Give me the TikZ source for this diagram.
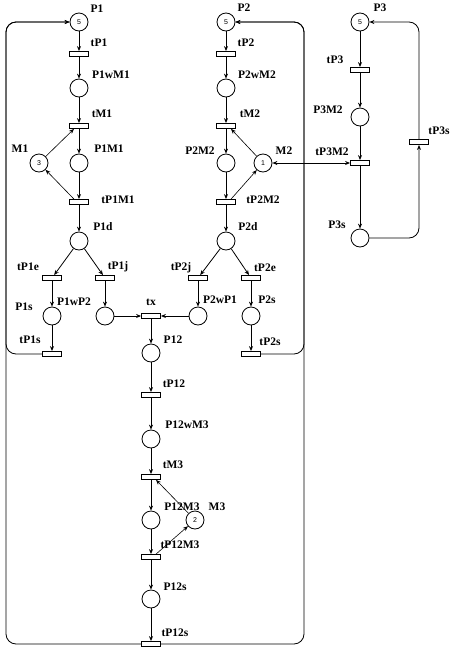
\documentclass[tikz,border=0pt]{standalone}
\usepackage{fontspec}
\setmainfont{Liberation Serif}
\newfontfamily\tokfont{Liberation Sans}
\usetikzlibrary{arrows.meta}
\begin{document}
\begin{tikzpicture}[x=1pt,y=-1pt,
  place/.style={circle,draw,line width=0.8pt,minimum size=18pt,inner sep=0pt,font=\tokfont\fontsize{7}{7}\selectfont},
  trans/.style={rectangle,draw,line width=0.8pt,minimum width=19pt,minimum height=5pt,inner sep=0pt},
  lbl/.style={font=\bfseries\fontsize{11.5}{12}\selectfont,inner sep=0pt},
  arc/.style={line width=0.8pt,-{Stealth[length=5pt,width=4pt]}},
  res/.style={line width=0.6pt,-{Stealth[length=5pt,width=4pt]}},
  loop/.style={line width=0.8pt,rounded corners=10pt,-{Stealth[length=5pt,width=4pt]}}]
\useasboundingbox (0,0) rectangle (458,651);
% ---- process 1
\node[place] (P1) at (79,22) {5};
\node[trans] (tP1) at (79,54) {};
\node[place] (P1wM1) at (79,88) {};
\node[trans] (tM1) at (79,126) {};
\node[place] (P1M1) at (79,163) {};
\node[place] (M1) at (39,163) {3};
\node[trans] (tP1M1) at (79,202) {};
\node[place] (P1d) at (79,241) {};
\node[trans] (tP1e) at (52,278) {};
\node[trans] (tP1j) at (105,278) {};
\node[place] (P1s) at (52,316) {};
\node[place] (P1wP2) at (105,316) {};
\node[trans] (tP1s) at (52,354) {};
% ---- process 2
\node[place] (P2) at (226,22) {5};
\node[trans] (tP2) at (226,54) {};
\node[place] (P2wM2) at (226,88) {};
\node[trans] (tM2) at (226,126) {};
\node[place] (P2M2) at (226,163) {};
\node[place] (M2) at (263,163) {1};
\node[trans] (tP2M2) at (226,202) {};
\node[place] (P2d) at (226,241) {};
\node[trans] (tP2j) at (198,278) {};
\node[trans] (tP2e) at (251,278) {};
\node[place] (P2wP1) at (198,316) {};
\node[place] (P2s) at (251,316) {};
\node[trans] (tP2s) at (251,354) {};
% ---- joint
\node[trans] (tx) at (151,316) {};
\node[place] (P12) at (151,353) {};
\node[trans] (tP12) at (151,395) {};
\node[place] (P12wM3) at (151,439) {};
\node[trans] (tM3) at (151,477) {};
\node[place] (P12M3) at (151,520) {};
\node[place] (M3) at (195,520) {2};
\node[trans] (tP12M3) at (151,557) {};
\node[place] (P12s) at (151,599) {};
\node[trans] (tP12s) at (151,644) {};
% ---- process 3
\node[place] (P3) at (360,22) {5};
\node[trans] (tP3) at (360,70) {};
\node[place] (P3M2) at (360,117) {};
\node[trans] (tP3M2) at (360,163) {};
\node[place] (P3s) at (360,238) {};
\node[trans] (tP3s) at (419,142) {};
% ---- labels
\node[lbl] (lP1) at (97,9) {P1};
\node[lbl] (ltP1) at (99,43) {tP1};
\node[lbl] (lP1wM1) at (111,75) {P1wM1};
\node[lbl] (ltM1) at (102,114) {tM1};
\node[lbl] (lP1M1) at (109,149) {P1M1};
\node[lbl] (lM1) at (20,149) {M1};
\node[lbl] (ltP1M1) at (118,200) {tP1M1};
\node[lbl] (lP1d) at (103,227) {P1d};
\node[lbl] (ltP1e) at (28,267) {tP1e};
\node[lbl] (ltP1j) at (118,267) {tP1j};
\node[lbl] (lP1s) at (24,307) {P1s};
\node[lbl] (lP1wP2) at (74,302) {P1wP2};
\node[lbl] (ltx) at (151,302) {tx};
\node[lbl] (ltP1s) at (30,340) {tP1s};
\node[lbl] (lP2) at (244,8) {P2};
\node[lbl] (ltP2) at (246,43) {tP2};
\node[lbl] (lP2wM2) at (257,75) {P2wM2};
\node[lbl] (ltM2) at (250,114) {tM2};
\node[lbl] (lP2M2) at (200,151) {P2M2};
\node[lbl] (lM2) at (284,151) {M2};
\node[lbl] (ltP2M2) at (263,200) {tP2M2};
\node[lbl] (lP2d) at (248,227) {P2d};
\node[lbl] (ltP2j) at (181,268) {tP2j};
\node[lbl] (ltP2e) at (265,268) {tP2e};
\node[lbl] (lP2wP1) at (220,300) {P2wP1};
\node[lbl] (lP2s) at (267,300) {P2s};
\node[lbl] (ltP2s) at (270,342) {tP2s};
\node[lbl] (lP12) at (173,340) {P12};
\node[lbl] (ltP12) at (174,384) {tP12};
\node[lbl] (lP12wM3) at (187,425) {P12wM3};
\node[lbl] (ltM3) at (173,465) {tM3};
\node[lbl] (lP12M3) at (182,507) {P12M3};
\node[lbl] (lM3) at (217,507) {M3};
\node[lbl] (ltP12M3) at (180,545) {tP12M3};
\node[lbl] (lP12s) at (175,587) {P12s};
\node[lbl] (ltP12s) at (175,633) {tP12s};
\node[lbl] (lP3) at (380,8) {P3};
\node[lbl] (ltP3) at (335,60) {tP3};
\node[lbl] (lP3M2) at (328,110) {P3M2};
\node[lbl] (ltP3M2) at (332,152) {tP3M2};
\node[lbl] (lP3s) at (337,225) {P3s};
\node[lbl] (ltP3s) at (439,131) {tP3s};
% ---- arcs process 1
\draw[arc] (P1) -- (tP1);
\draw[arc] (tP1) -- (P1wM1);
\draw[arc] (P1wM1) -- (tM1);
\draw[arc] (tM1) -- (P1M1);
\draw[arc] (P1M1) -- (tP1M1);
\draw[arc] (tP1M1) -- (P1d);
\draw[res] (M1) -- (tM1.-150);
\draw[res] (tP1M1.150) -- (M1);
\draw[arc] (P1d) -- (tP1e);
\draw[arc] (P1d) -- (tP1j);
\draw[arc] (tP1e) -- (P1s);
\draw[arc] (tP1j) -- (P1wP2);
\draw[arc] (P1s) -- (tP1s);
\draw[arc] (P1wP2) -- (tx);
% ---- arcs process 2
\draw[arc] (P2) -- (tP2);
\draw[arc] (tP2) -- (P2wM2);
\draw[arc] (P2wM2) -- (tM2);
\draw[arc] (tM2) -- (P2M2);
\draw[arc] (P2M2) -- (tP2M2);
\draw[arc] (tP2M2) -- (P2d);
\draw[res] (M2) -- (tM2.-30);
\draw[res] (tP2M2.30) -- (M2);
\draw[arc] (P2d) -- (tP2j);
\draw[arc] (P2d) -- (tP2e);
\draw[arc] (tP2j) -- (P2wP1);
\draw[arc] (tP2e) -- (P2s);
\draw[arc] (P2s) -- (tP2s);
\draw[arc] (P2wP1) -- (tx);
% ---- joint
\draw[arc] (tx) -- (P12);
\draw[arc] (P12) -- (tP12);
\draw[arc] (tP12) -- (P12wM3);
\draw[arc] (P12wM3) -- (tM3);
\draw[arc] (tM3) -- (P12M3);
\draw[arc] (P12M3) -- (tP12M3);
\draw[arc] (tP12M3) -- (P12s);
\draw[arc] (P12s) -- (tP12s);
\draw[res] (M3) -- (tM3.-30);
\draw[res] (tP12M3.30) -- (M3);
% ---- process 3
\draw[arc] (P3) -- (tP3);
\draw[arc] (tP3) -- (P3M2);
\draw[arc] (P3M2) -- (tP3M2);
\draw[arc] (tP3M2) -- (P3s);
\draw[loop] (P3s.east) -| (tP3s.south);
\draw[loop] (tP3s.north) |- (P3.east);
\draw[line width=0.8pt,{Stealth[length=5pt,width=4pt]}-{Stealth[length=5pt,width=4pt]}] (M2) -- (tP3M2);
% ---- loops back
\draw[loop] (tP1s.west) -| (6,22) -- (P1.west);
\draw[loop] (tP12s.west) -| (6,22) -- (P1.west);
\draw[loop] (tP2s.east) -| (304,22) -- (P2.east);
\draw[loop] (tP12s.east) -| (304,22) -- (P2.east);
\end{tikzpicture}
\end{document}
